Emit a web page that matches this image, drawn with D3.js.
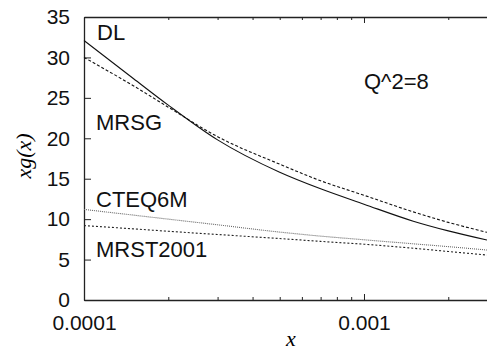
<!DOCTYPE html>
<html>
<head>
<meta charset="utf-8">
<script src="https://cdn.jsdelivr.net/npm/d3@7"></script>
<style>
  html, body { margin: 0; padding: 0; background: #fff; }
  svg { display: block; }
</style>
</head>
<body>
<div id="chart"></div>
<script>
// x values (log axis)
const xs = [0.0001, 0.00015, 0.0002, 0.0003, 0.0005, 0.0007, 0.001, 0.0015, 0.002, 0.00275];

// xg(x) for each set
const dlValues    = [32.1, 27.4, 24.1, 19.8, 15.8, 13.75, 11.85, 9.75, 8.55, 7.42];
const mrsgValues  = [30.0, 26.5, 23.85, 20.2, 16.8, 14.75, 12.95, 10.9, 9.6, 8.37];
const cteqValues  = [11.2, 10.5, 10.0, 9.3, 8.4, 7.9, 7.45, 6.95, 6.6, 6.18];
const mrstValues  = [9.2, 8.8, 8.5, 8.1, 7.6, 7.25, 6.9, 6.4, 6.0, 5.56];

const seriesNames = ['DL', 'MRSG', 'CTEQ6M', 'MRST2001'];
const yTicks = [0, 5, 10, 15, 20, 25, 30, 35];
const xMajor = [0.0001, 0.001];
const xMinor = [0.0002, 0.0003, 0.0004, 0.0005, 0.0006, 0.0007, 0.0008, 0.0009, 0.002];

const width = 487, height = 352;
const margin = { top: 17, right: 0, bottom: 52, left: 84 };

const svg = d3.select('#chart').append('svg')
    .attr('width', width)
    .attr('height', height);

const xScale = d3.scaleLog()
    .domain([0.0001, 0.00275])
    .range([margin.left, width - margin.right]);

const yScale = d3.scaleLinear()
    .domain([0, 35])
    .range([height - margin.bottom, margin.top]);

const tickFont = 'Liberation Sans, Arial, Helvetica, sans-serif';

// y axis, ticks inward
const yAxis = svg.append('g')
    .attr('transform', `translate(${margin.left},0)`)
    .call(d3.axisLeft(yScale).tickValues(yTicks).tickSizeInner(-7).tickSizeOuter(0).tickPadding(14));

// bottom axis, major ticks with labels
const xAxis = svg.append('g')
    .attr('transform', `translate(0,${height - margin.bottom})`)
    .call(d3.axisBottom(xScale).tickValues(xMajor).tickSizeInner(-6).tickSizeOuter(0).tickPadding(15)
        .tickFormat(d => d === 0.0001 ? '0.0001' : '0.001'));

// bottom minor ticks
svg.append('g')
    .attr('transform', `translate(0,${height - margin.bottom})`)
    .call(d3.axisBottom(xScale).tickValues(xMinor).tickSizeInner(-3).tickSizeOuter(0).tickFormat(''))
    .select('.domain').remove();

// top axis (mirror)
svg.append('g')
    .attr('transform', `translate(0,${margin.top})`)
    .call(d3.axisTop(xScale).tickValues(xMajor).tickSizeInner(-6).tickSizeOuter(0).tickFormat(''));
svg.append('g')
    .attr('transform', `translate(0,${margin.top})`)
    .call(d3.axisTop(xScale).tickValues(xMinor).tickSizeInner(-3).tickSizeOuter(0).tickFormat(''))
    .select('.domain').remove();

svg.selectAll('.domain').attr('stroke', '#222').attr('stroke-width', 1.3);
svg.selectAll('.tick line').attr('stroke', '#222');

[yAxis, xAxis].forEach(a => a.selectAll('text')
    .attr('font-family', tickFont)
    .attr('font-size', 21)
    .attr('fill', '#111'));

// curves
const line = d3.line()
    .x(d => xScale(d[0]))
    .y(d => yScale(d[1]))
    .curve(d3.curveMonotoneX);

const curves = [
    { values: dlValues,   dash: null,  color: '#111', w: 1.1 },
    { values: mrsgValues, dash: '3,2', color: '#111', w: 1.1 },
    { values: cteqValues, dash: '1,1', color: '#666', w: 1.1 },
    { values: mrstValues, dash: '2,2', color: '#222', w: 1.1 }
];

svg.append('g').selectAll('path')
    .data(curves)
    .enter()
    .append('path')
    .attr('d', c => line(xs.map((x, i) => [x, c.values[i]])))
    .attr('fill', 'none')
    .attr('stroke', c => c.color)
    .attr('stroke-width', c => c.w)
    .attr('stroke-dasharray', c => c.dash);

// curve labels
const labelPos = [[97, 40], [96, 130], [96, 207], [96, 257]];
svg.append('g').selectAll('text')
    .data(seriesNames)
    .enter()
    .append('text')
    .attr('x', (d, i) => labelPos[i][0])
    .attr('y', (d, i) => labelPos[i][1])
    .attr('font-family', tickFont)
    .attr('font-size', 22)
    .attr('fill', '#111')
    .text(d => d);

svg.append('text')
    .attr('x', 364)
    .attr('y', 89)
    .attr('font-family', tickFont)
    .attr('font-size', 22)
    .attr('fill', '#111')
    .text('Q^2=8');

// axis titles
svg.append('text')
    .attr('x', 291)
    .attr('y', 346)
    .attr('text-anchor', 'middle')
    .attr('font-family', 'Liberation Serif, Times New Roman, serif')
    .attr('font-style', 'italic')
    .attr('font-size', 22)
    .text('x');

svg.append('text')
    .attr('transform', 'translate(31,156) rotate(-90)')
    .attr('text-anchor', 'middle')
    .attr('font-family', 'Liberation Serif, Times New Roman, serif')
    .attr('font-style', 'italic')
    .attr('font-size', 22)
    .text('xg(x)');
</script>
</body>
</html>
